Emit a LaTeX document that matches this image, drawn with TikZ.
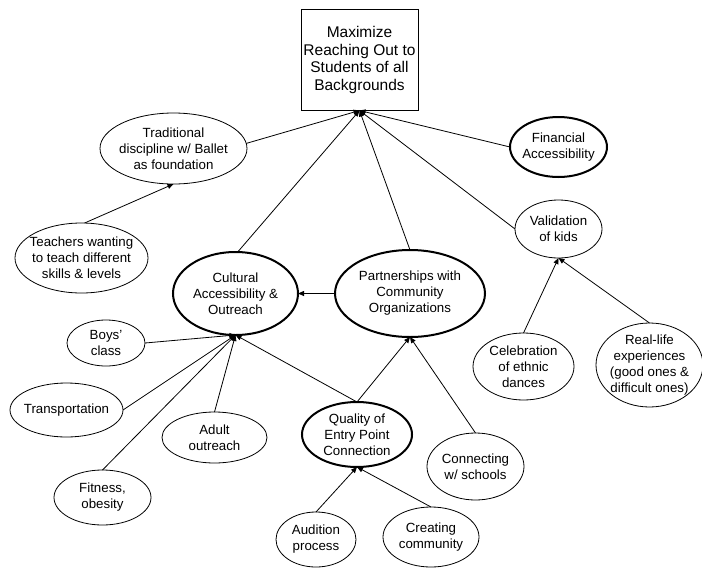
\documentclass[tikz,border=0pt]{standalone}
\usepackage{fontspec}
\setmainfont{Liberation Sans}
\usetikzlibrary{shapes.geometric,arrows.meta}
\begin{document}
\begin{tikzpicture}[x=1pt,y=-1pt,
  bubble/.style={ellipse, draw, line width=0.8pt, inner sep=0pt, outer sep=0pt},
  keybubble/.style={bubble, line width=2pt},
  every label/.style={align=center, inner sep=0pt, font=\fontsize{13.3}{16}\selectfont},
  goalbox/.style={draw, line width=0.8pt, align=center, inner sep=0pt, outer sep=0pt,
    font=\fontsize{15.5}{17.5}\selectfont},
  link/.style={draw, line width=0.8pt, -{Triangle[length=6pt,width=5pt]}}]
\useasboundingbox (0,0) rectangle (702,568);

% central goal
\node[goalbox, minimum width=117pt, minimum height=101pt] (goal) at (359.5,60)
  {Maximize\\Reaching Out to\\Students of all\\Backgrounds};

% first ring
\node[bubble, minimum width=147pt, minimum height=71pt,
  label={center:Traditional\\discipline w/ Ballet\\as foundation}] (trad) at (173.5,148.5) {};
\node[bubble, minimum width=133pt, minimum height=70pt,
  label={center:Teachers wanting\\to teach different\\skills \& levels}] (teach) at (81.5,258) {};
\node[keybubble, minimum width=97pt, minimum height=60pt,
  label={center:Financial\\Accessibility}] (fin) at (558.5,147) {};
\node[bubble, minimum width=87pt, minimum height=58pt,
  label={center:Validation\\of kids}] (val) at (558.5,229) {};
\node[keybubble, minimum width=125pt, minimum height=83pt,
  label={center:Cultural\\Accessibility \&\\Outreach}] (cult) at (235.5,293.5) {};
\node[keybubble, minimum width=150pt, minimum height=87pt,
  label={center:Partnerships with\\Community\\Organizations}] (part) at (410,293.5) {};

% outer ring
\node[bubble, minimum width=78pt, minimum height=46pt,
  label={center:Boys'\\class}] (boys) at (106,343) {};
\node[bubble, minimum width=113pt, minimum height=54pt,
  label={center:Transportation}] (trans) at (66.5,410) {};
\node[bubble, minimum width=105pt, minimum height=51pt,
  label={center:Adult\\outreach}] (adult) at (214.5,437.5) {};
\node[bubble, minimum width=97pt, minimum height=55pt,
  label={center:Fitness,\\obesity}] (fit) at (102.5,497.5) {};
\node[keybubble, minimum width=110pt, minimum height=65pt,
  label={center:Quality of\\Entry Point\\Connection}] (qual) at (357,434.5) {};
\node[bubble, minimum width=80pt, minimum height=55pt,
  label={center:Audition\\process}] (aud) at (316,539.5) {};
\node[bubble, minimum width=96pt, minimum height=60pt,
  label={center:Creating\\community}] (creat) at (431,537) {};
\node[bubble, minimum width=97pt, minimum height=67pt,
  label={center:Connecting\\w/ schools}] (conn) at (475.5,466.5) {};
\node[bubble, minimum width=101pt, minimum height=67pt,
  label={center:Celebration\\of ethnic\\dances}] (celeb) at (523.5,366.5) {};
\node[bubble, minimum width=107pt, minimum height=84pt,
  label={center:Real-life\\experiences\\(good ones \&\\difficult ones)}] (real) at (649.5,365) {};

% connectors into the goal
\draw[link] (trad.4) -- (goal.south);
\draw[link] (cult.87) -- (goal.south);
\draw[link] (part.north) -- (goal.south);
\draw[link] (fin.west) -- (goal.south);
\draw[link] (val.west) -- (goal.south);

% connectors into the first ring
\draw[link] (teach.85) -- (trad.south);
\draw[link] (part.west) -- (cult.east);
\draw[link] (boys.east) -- (cult.south);
\draw[link] (trans.east) -- (cult.south);
\draw[link] (fit.north) -- (cult.south);
\draw[link] (adult.north) -- (cult.south);
\draw[link] (qual.north) -- (cult.south);
\draw[link] (qual.north) -- (part.south);
\draw[link] (conn.north) -- (part.south);
\draw[link] (celeb.north) -- (val.south);
\draw[link] (real.north) -- (val.south);

% connectors into the entry-point node
\draw[link] (aud.north) -- (qual.south);
\draw[link] (creat.north) -- (qual.south);
\end{tikzpicture}
\end{document}
